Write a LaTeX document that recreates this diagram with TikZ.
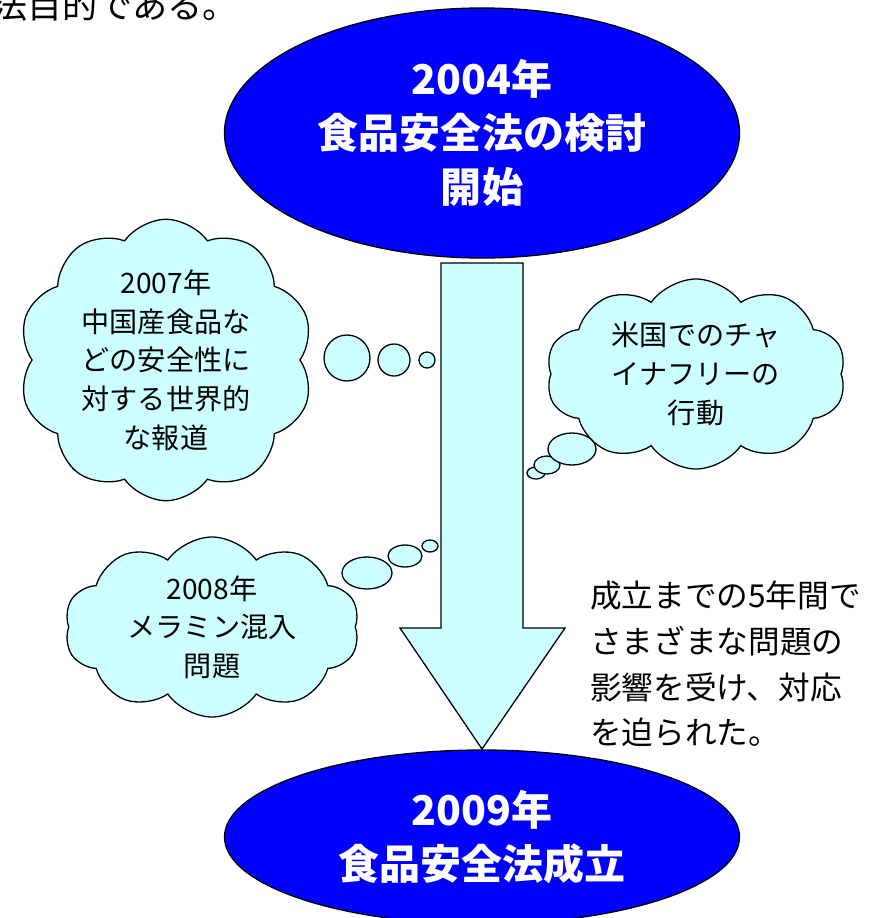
\documentclass[tikz,border=0pt]{standalone}
\usepackage{fontspec}
\setmainfont{Noto Sans CJK JP}
\usetikzlibrary{shapes.geometric,shapes.symbols}
\definecolor{oblue}{RGB}{0,0,255}
\definecolor{palecyan}{RGB}{204,255,255}
\tikzset{
  milestone/.style={ellipse,draw=black,line width=1.1pt,fill=oblue,text=white,
    align=center,inner sep=0pt,font=\bfseries\fontsize{35}{46}\selectfont},
  thought/.style={cloud,cloud puffs=10,cloud puff arc=110,cloud ignores aspect,
    draw=black,line width=1.1pt,fill=palecyan,align=center,inner sep=0pt,
    font=\fontsize{24}{33}\selectfont},
  bubble/.style={draw=black,line width=1.1pt,fill=palecyan},
}
\begin{document}
\begin{tikzpicture}[x=0.03cm,y=-0.03cm]
        \useasboundingbox (0,0) rectangle (873,918);
        \clip (0,0) rectangle (873,918);
        \node[anchor=base west,inner sep=0pt,font=\fontsize{30}{30}\selectfont] (head) at (-8,18) {法目的である。};
        % big arrow between the two years
        \draw[bubble] (441,263) -- (523,263) -- (523,628) -- (565,628) -- (482,749)
            -- (400,628) -- (441,628) -- cycle;
        \node[milestone,minimum width=15.45cm,minimum height=7.5cm] (start) at (482,133) {2004年\\食品安全法の検討\\開始};
        \node[milestone,minimum width=15.45cm,minimum height=5.22cm] (finish) at (482,837) {2009年\\食品安全法成立};
        % thought clouds
        \draw[bubble] (347,358) ellipse [x radius=23,y radius=23];
        \draw[bubble] (394,360) ellipse [x radius=16,y radius=16];
        \draw[bubble] (427,360) ellipse [x radius=8,y radius=8];
        \node[thought,minimum width=8.85cm,minimum height=8.25cm] (china) at (166,360) {2007年\\中国産食品な\\どの安全性に\\対する世界的\\な報道};
        \draw[bubble] (536,473) ellipse [x radius=9,y radius=6];
        \draw[bubble] (547,465) ellipse [x radius=13,y radius=9];
        \draw[bubble] (572,449) ellipse [x radius=24,y radius=16];
        \node[thought,minimum width=9cm,minimum height=5.7cm] (usa) at (696,374) {米国でのチャ\\イナフリーの\\行動};
        \draw[bubble] (430,546) ellipse [x radius=8,y radius=6];
        \draw[bubble] (405,556) ellipse [x radius=17,y radius=11];
        \draw[bubble] (367,573) ellipse [x radius=25,y radius=16];
        \node[thought,minimum width=8.85cm,minimum height=5.4cm] (melamine) at (212,627) {2008年\\メラミン混入\\問題};
        \node[anchor=west,align=left,inner sep=0pt,font=\fontsize{27}{39}\selectfont] (note) at (590,664) {成立までの5年間で\\さまざまな問題の\\影響を受け、対応\\を迫られた。};
\end{tikzpicture}
\end{document}
